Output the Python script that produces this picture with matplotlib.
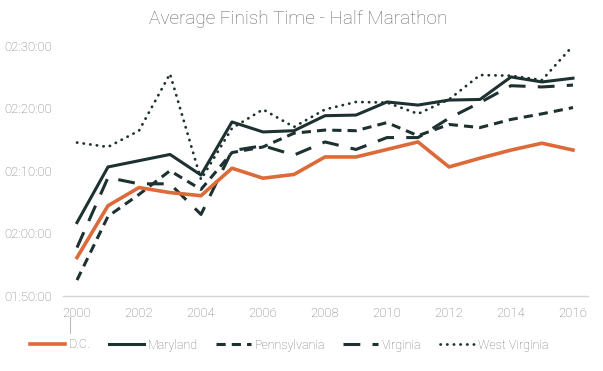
import matplotlib
matplotlib.use("Agg")
import matplotlib.pyplot as plt
from matplotlib.ticker import FuncFormatter
from matplotlib.lines import Line2D

years = list(range(2000, 2017))
# average finish times in minutes
dc = [116.1, 124.4, 127.3, 126.5, 126.0, 130.4, 128.8, 129.4, 132.2, 132.2, 133.4, 134.6, 130.6, 132.0, 133.3, 134.4, 133.3]
maryland = [121.7, 130.6, 131.6, 132.6, 129.3, 137.8, 136.2, 136.4, 138.8, 138.9, 141.0, 140.5, 141.3, 141.4, 145.0, 144.2, 144.8]
pennsylvania = [112.5, 122.7, 126.2, 130.0, 127.0, 132.9, 133.8, 136.0, 136.5, 136.4, 137.7, 135.6, 137.4, 136.9, 138.2, 139.1, 140.1]
virginia = [117.7, 128.9, 127.9, 127.9, 123.0, 133.2, 134.0, 132.5, 134.6, 133.4, 135.3, 135.3, 138.4, 140.9, 143.6, 143.4, 143.7]
west_virginia = [134.5, 133.8, 136.4, 145.5, 128.6, 136.8, 139.8, 137.0, 139.8, 141.0, 140.9, 139.1, 141.4, 145.3, 145.2, 144.5, 150.0]
labels = ["D.C.", "Maryland", "Pennsylvania", "Virginia", "West Virginia"]
x_ticks = list(range(2000, 2017, 2))
y_ticks = [110, 120, 130, 140, 150]

plt.rcParams['font.family'] = ['Roboto', 'DejaVu Sans']

fig = plt.figure(figsize=(6.03, 3.71), dpi=100)
ax = fig.add_axes([63/603, 1-295.7/371, 525/603, 250/371])

orange = "#DD6B3A"
dark = "#1E3131"

ax.plot(years, dc, color=orange, lw=2.6, label=labels[0], clip_on=False, zorder=5)
ax.plot(years, maryland, color=dark, lw=2.2, label=labels[1], clip_on=False, zorder=4)
ax.plot(years, pennsylvania, color=dark, lw=2.2, ls=(0, (3, 2)), label=labels[2], clip_on=False, zorder=3)
ax.plot(years, virginia, color=dark, lw=2.2, ls=(0, (5.5, 4)), label=labels[3], clip_on=False, zorder=3)
ax.plot(years, west_virginia, color=dark, lw=2.0, ls=(0, (0.1, 2.3)), dash_capstyle='round',
        solid_capstyle='round', label=labels[4], clip_on=False, zorder=3)

ax.set_xlim(2000 - 14/31, 2000 + 511/31)
ax.set_ylim(110, 150)
ax.set_xticks(x_ticks)
ax.set_yticks(y_ticks)

def fmt(v, pos):
    total = int(round(v * 60))
    h, rem = divmod(total, 3600)
    m, s = divmod(rem, 60)
    return f"{h:02d}:{m:02d}:{s:02d}"

ax.yaxis.set_major_formatter(FuncFormatter(fmt))
for side in ["top", "right", "left"]:
    ax.spines[side].set_visible(False)
ax.spines["bottom"].set_color("#D5D5D5")
ax.spines["bottom"].set_linewidth(1.0)
ax.tick_params(axis="both", length=0, labelsize=9.5, labelcolor="#777777")
ax.tick_params(axis="x", pad=8)
ax.tick_params(axis="y", pad=8)
for t in ax.get_xticklabels() + ax.get_yticklabels():
    t.set_fontweight("light")

fig.text(0.495, 1 - 19/371, "Average Finish Time - Half Marathon", ha="center", va="center",
         fontsize=13.7, color="#666666", fontweight="light")

# small cursor-like mark under the first tick
fig.add_artist(Line2D([70/603, 70/603], [1 - 317/371, 1 - 333/371], color="#BBBBBB", lw=0.8))

leg = fig.legend(loc="center", bbox_to_anchor=(0.48, 1 - 345/371), ncol=5, frameon=False,
                 handlelength=2.8, handletextpad=0.3, columnspacing=1.45, fontsize=9)
for t in leg.get_texts():
    t.set_color("#777777")
    t.set_fontweight("light")

fig.savefig("out.png", dpi=100)
